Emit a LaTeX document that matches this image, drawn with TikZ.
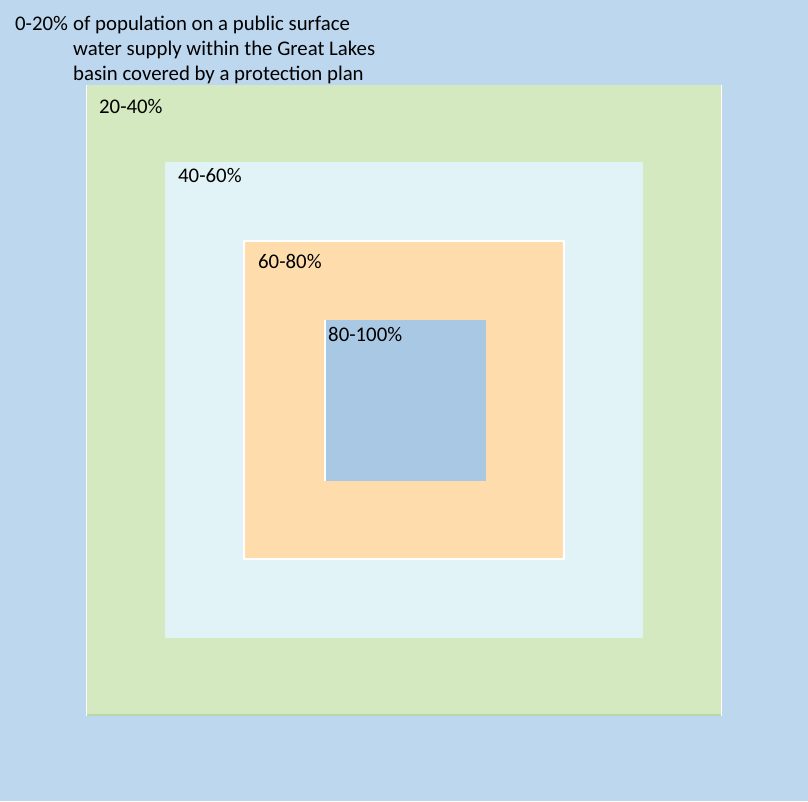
\documentclass[tikz,border=0pt]{standalone}
\usepackage{fontspec}
\setmainfont{Carlito}
\definecolor{bgblue}{HTML}{BDD7EE}
\definecolor{ringgreen}{HTML}{D5E9C1}
\definecolor{ringcyan}{HTML}{E2F3F8}
\definecolor{ringorange}{HTML}{FEDCAB}
\definecolor{coreblue}{HTML}{A8C8E3}
\definecolor{edgegreen}{HTML}{B9D7A8}
\begin{document}
\begin{tikzpicture}[x=1pt,y=-1pt,
  lbl/.style={anchor=base west,inner sep=0pt,font=\fontsize{20.8}{25}\selectfont,text=black},
  ring/.style={draw=none,line width=0pt}]
\useasboundingbox (0,0) rectangle (808,801);
\fill[bgblue] (0,0) rectangle (808,801);
% rings
\fill[ringgreen] (86,85) rectangle (722,716);
\draw[edgegreen,line width=1.5pt] (86,715) -- (722,715);
\draw[white,line width=1.5pt] (86.7,85) -- (86.7,716);
\draw[white,line width=1.5pt] (721.3,85) -- (721.3,716);
\fill[ringcyan] (165,162) rectangle (643,638);
\fill[ringorange] (244,241) rectangle (564,559);
\draw[white,line width=1.5pt] (244,241) rectangle (564,559);
\fill[coreblue] (325,320) rectangle (486,481);
\draw[white,line width=2pt] (325,320) -- (325,481);
% labels
\node[lbl] (l0) at (15,30) {0-20\%};
\node[lbl] (t1) at (73,30) {of population on a public surface};
\node[lbl] (t2) at (73,55) {water supply within the Great Lakes};
\node[lbl] (t3) at (73,80) {basin covered by a protection plan};
\node[lbl] (l1) at (99,113) {20-40\%};
\node[lbl] (l2) at (178,182) {40-60\%};
\node[lbl] (l3) at (258,268) {60-80\%};
\node[lbl] (l4) at (328,341) {80-100\%};
\end{tikzpicture}
\end{document}
